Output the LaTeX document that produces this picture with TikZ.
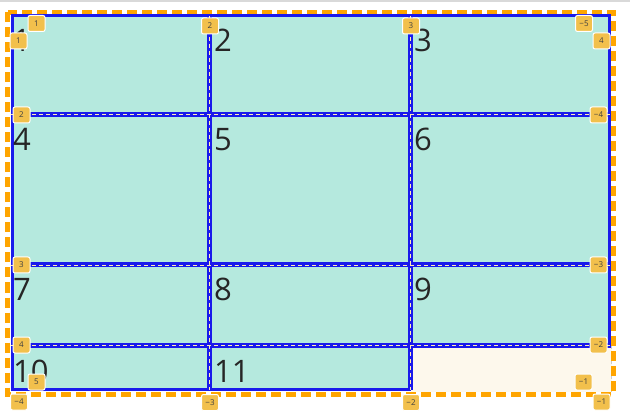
\documentclass[tikz,border=0pt]{standalone}
\usepackage{fontspec}
\setmainfont{Open Sans}
\definecolor{mint}{RGB}{181,233,222}
\definecolor{cream}{RGB}{253,248,236}
\definecolor{gblue}{RGB}{26,26,235}
\definecolor{gorange}{RGB}{255,165,0}
\definecolor{badge}{RGB}{242,192,76}
\definecolor{dashc}{RGB}{255,236,180}
\tikzset{
  cellnum/.style={anchor=base west, inner sep=0pt, font=\fontsize{31}{31}\selectfont, text=black!85},
  badgebox/.style={draw=white, line width=1pt, fill=badge, rounded corners=2pt, minimum width=17pt, minimum height=16pt, inner sep=0pt, font=\fontsize{8}{8}\selectfont, text=black!75},
  gline/.style={draw=gblue, line width=5pt},
  gcenter/.style={draw=dashc, line width=0.9pt, dash pattern=on 4pt off 3pt},
  outerb/.style={draw=gblue, line width=3pt},
}
\begin{document}
\begin{tikzpicture}[x=1pt,y=-1pt]
\useasboundingbox (0,0) rectangle (630,417);
\fill[white] (0,0) rectangle (630,417);
\draw[black!15, line width=1.2pt] (0,1) -- (630,1);
% fills
\fill[mint] (11,15) rectangle (611,346);
\fill[mint] (11,345) rectangle (411,391);
\fill[cream] (411,346) rectangle (612,392);
\draw[black!20, line width=0.8pt, dash pattern=on 3pt off 2pt] (611,346) -- (611,392);
% outer orange dashed border
\draw[gorange, line width=5pt, dash pattern=on 10pt off 5pt] (7.5,12.5) rectangle (613,394);
% outer blue borders
\coordinate (tl) at (12,16);
\coordinate (tr) at (609.5,16);
\coordinate (rr) at (609.5,346);
\coordinate (bl) at (12,389.5);
\coordinate (br) at (411,389.5);
\draw[outerb] (rr) -- (tr) -- (tl) -- (bl) -- (br);
% interior grid lines
\coordinate (c2t) at (209.5,16); \coordinate (c2b) at (209.5,390);
\coordinate (c3t) at (410.5,16); \coordinate (c3b) at (410.5,390);
\coordinate (r2l) at (11,114.5); \coordinate (r2r) at (611,114.5);
\coordinate (r3l) at (11,265); \coordinate (r3r) at (611,265);
\coordinate (r4l) at (11,345); \coordinate (r4r) at (611,345);
\foreach \a/\b in {c2t/c2b, c3t/c3b, r2l/r2r, r3l/r3r, r4l/r4r} {
  \draw[gline] (\a) -- (\b);
}
\foreach \a/\b in {c2t/c2b, c3t/c3b, r2l/r2r, r3l/r3r, r4l/r4r} {
  \draw[gcenter] (\a) -- (\b);
}
% cell numbers
\node[cellnum] (n1) at (13,52) {1};
\node[cellnum] (n2) at (214,52) {2};
\node[cellnum] (n3) at (414,52) {3};
\node[cellnum] (n4) at (13,151) {4};
\node[cellnum] (n5) at (214,151) {5};
\node[cellnum] (n6) at (414,151) {6};
\node[cellnum] (n7) at (13,301) {7};
\node[cellnum] (n8) at (214,301) {8};
\node[cellnum] (n9) at (414,301) {9};
\node[cellnum] (n10) at (13,382) {10};
\node[cellnum] (n11) at (214,382) {11};
% badges
\node[badgebox] (bt1) at (36.5,23.5) {1};
\node[badgebox] (bl1) at (18.5,41) {1};
\node[badgebox] (bt2) at (210,26) {2};
\node[badgebox] (bt3) at (411,26) {3};
\node[badgebox] (btm5) at (584,23.5) {−5};
\node[badgebox] (br4) at (601.5,41) {4};
\node[badgebox] (bl2) at (21.5,115) {2};
\node[badgebox] (brm4) at (598.5,115) {−4};
\node[badgebox] (bl3) at (21.5,265) {3};
\node[badgebox] (brm3) at (598.5,265) {−3};
\node[badgebox] (bl4) at (21.5,345) {4};
\node[badgebox] (brm2) at (598.5,345) {−2};
\node[badgebox] (bb5) at (36.5,382) {5};
\node[badgebox] (bim1) at (583.5,382) {−1};
\node[badgebox] (bbm4) at (19,402) {−4};
\node[badgebox] (bbm3) at (210,402.5) {−3};
\node[badgebox] (bbm2) at (411,402.5) {−2};
\node[badgebox] (bbm1) at (601.5,402) {−1};
\end{tikzpicture}
\end{document}
